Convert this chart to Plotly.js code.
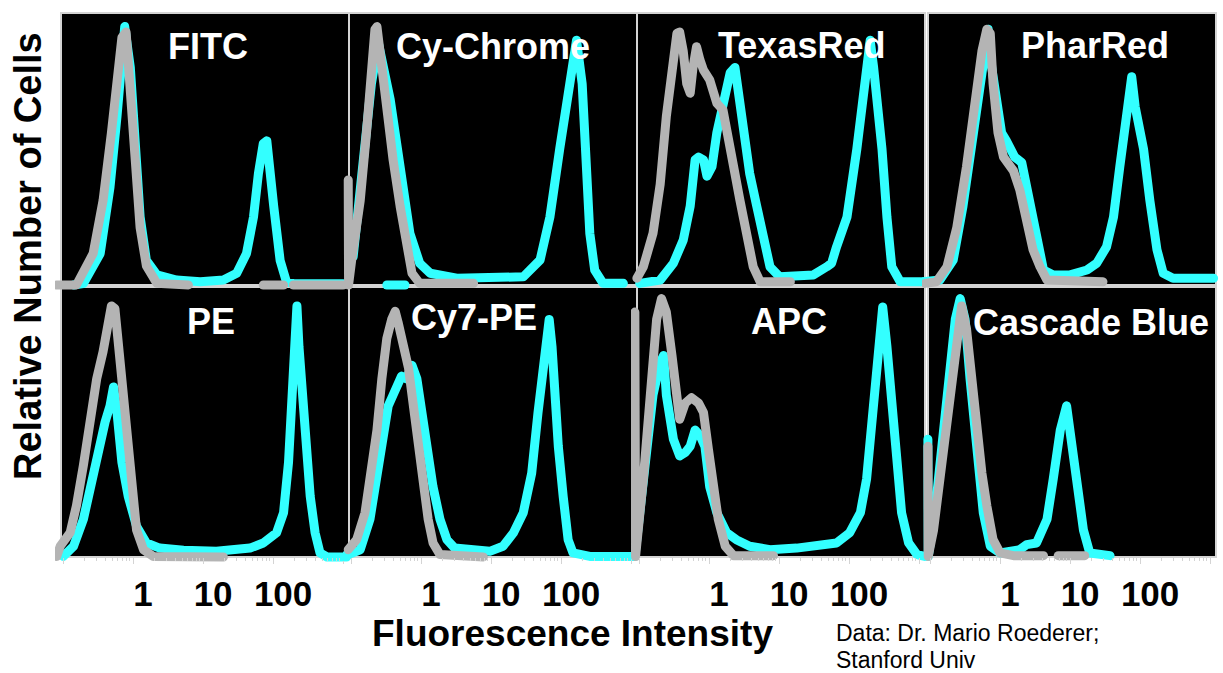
<!DOCTYPE html>
<html>
<head>
<meta charset="utf-8">
<script src="https://cdn.plot.ly/plotly-3.0.1.min.js"></script>
<style>
html,body{margin:0;padding:0;background:#ffffff;}
#chart{width:1223px;height:673px;}
</style>
</head>
<body>
<div id="chart"></div>
<script>
// ---------------- DATA ----------------
const panelNames = ['FITC', 'Cy-Chrome', 'TexasRed', 'PharRed', 'PE', 'Cy7-PE', 'APC', 'Cascade Blue'];
const tickVals = [0.1, 1, 10, 100, 1000];
const tickText = ['', '1', '10', '100', ''];
const minorTickVals = [0.2,0.3,0.4,0.5,0.6,0.7,0.8,0.9, 2,3,4,5,6,7,8,9, 20,30,40,50,60,70,80,90, 200,300,400,500,600,700,800,900];

// FITC
const fitcCyanX = [0.141,0.195,0.339,0.468,0.589,0.692,0.759,0.912,1.07,1.26,1.55,2.19,4.17,9.12,19.5,30.2,41.7,52.5,61.7,72.4,81.3,91.2,102,126,155,195,1000];
const fitcCyanY = [0,0.5,11.6,36,62,86,95,80,50,25,9,3.7,1.8,1.2,1.8,4.3,11.6,25,41,52,53,43.5,29,9,1.2,0.5,0.5];
const fitcGrayX = [0.081,0.155,0.269,0.372,0.49,0.617,0.692,0.794,0.912,1.07,1.26,1.55,2.19,6.17,null,72.4,141,null,195,1000];
const fitcGrayY = [0,0,11.6,31,56,80,91,93,74,43,21,7,0.6,0,null,0,0,null,0,0];

// Cy-Chrome
const cychCyanX = [0.324,0.589,null,0.107,0.148,0.195,0.245,0.363,0.501,0.692,0.955,1.35,3.24,9.55,28.8,50.1,69.2,95.5,120,141,166,200,234,257,302,398,776];
const cychCyanY = [0,0,null,10.4,43.5,74,89,68,43.5,19,8,4.3,2.5,2.5,3,9.2,25,50,68,80,90,74,43.5,19,5.5,0.6,0.6];
const cychGrayX = [0.091,0.092,0.102,0.135,0.166,0.195,0.219,0.234,0.275,0.324,0.398,0.501,0.617,0.741,0.955,5.62];
const cychGrayY = [38.6,0,9.2,31,56,80,94,95,80,62,46,29,13,4.3,0.6,0.6];

// TexasRed
const texCyanX = [0.102,0.2,0.309,0.427,0.537,0.631,0.708,0.832,0.933,1.10,1.29,1.45,1.70,2.0,2.34,2.63,2.75,3.24,3.80,4.79,5.89,7.41,10.2,30.9,47.9,56.2,66.1,93.3,129,158,178,200,224,245,295,347,407,537,1148];
const texCyanY = [0.6,1.8,8,16.5,29,46,47,46,40,43.5,56,63,70.5,78,80,70.5,62,53,41,29,16.5,6.7,3,3.7,6.7,8,14,25,50,68,80,90,80,70.5,50,25,6.7,1.2,1.2];
const texGrayX = [0.093,0.115,0.158,0.2,0.245,0.295,0.347,0.38,0.427,0.479,0.537,0.589,0.661,0.741,0.832,1.02,1.29,1.58,1.78,2.24,2.75,3.47,4.27,5.37,14.5];
const texGrayY = [2.5,6.7,19,37,62,80,92.5,93,86,74,70.5,80,87.6,82.7,79,75.4,66.8,64.3,55.8,43.5,31.3,19,6.7,1.2,1.2];

// PharRed
const pharCyanX = [0.08,0.138,0.214,0.295,0.417,0.513,0.676,0.759,0.891,1.05,1.23,1.62,2.04,2.40,3.16,4.17,5.75,10,17.4,24,33.1,41.7,51.3,64.6,75.9,85.1,112,138,174,214,295,1122];
const pharCyanY = [1.2,1.8,9.2,29,56,74,94,80,68,56,53,47,45,36,19,5.5,3.7,3.7,5.5,8,14,25,43.5,62,76.6,65.5,50,31,13,4.3,2.5,2.5];
const pharGrayX = [0.085,0.123,0.174,0.24,0.331,0.437,0.55,0.646,0.724,0.794,0.933,1.12,1.55,1.91,2.40,2.95,3.72,4.68,29.5];
const pharGrayY = [0.6,1.2,6.7,21,43.5,68,86,94,92.5,74,56,47,42,35,25,13,6.7,1.8,1.2];

// PE
const peCyanX = [0.1,0.141,0.195,0.269,0.339,0.398,0.468,0.525,0.589,0.692,0.851,1.12,1.55,2.40,5.25,15.5,46.8,72.4,112,141,166,186,204,219,234,257,288,339,398,468,589,1122];
const peCyanY = [0.2,4,14,31,44,50,56,63,53.5,35,22.5,11.4,5.2,3.3,2.5,2.1,3.3,5.2,9,16.4,35,60,84.5,93,78,61,41,22.5,9,1.5,0,0];
const peGrayX = [0.081,0.091,0.126,0.155,0.195,0.24,0.302,0.372,0.447,0.49,0.55,0.617,0.692,0.813,0.955,1.12,1.41,1.95,19.5];
const peGrayY = [0.2,4,9,19,34,51,66,76,88,93,92,78,60,41,22.5,10,2.7,0.2,0];

// Cy7-PE
const cy7CyanX = [0.078,0.135,0.186,0.257,0.339,0.398,0.468,0.525,0.617,0.741,0.871,1.02,1.20,1.48,1.86,2.34,3.02,5.62,9.55,14.8,20.9,28.8,38,46.8,56.2,61.7,67.6,74.1,81.3,91.2,107,126,148,257,1072];
const cy7CyanY = [0.2,2.7,14,35,56,60,65,67,66,71,66,53.5,41,26,14,6.4,3.3,2.7,2.1,4,9,16.4,31,53.5,72,84.5,88,78,60,41,22.5,6.4,1.5,0.2,0.2];
const cy7GrayX = [0.091,0.12,0.158,0.195,0.234,0.275,0.324,0.38,0.427,0.468,0.562,0.661,0.776,0.912,1.07,1.26,1.48,1.86,7.76];
const cy7GrayY = [2.7,6.4,16.4,31,47,66,81,88,91,87,78,70,56,41,26,14,5.2,0.9,0];

// APC
const apcCyanX = [0.087,0.102,0.129,0.158,0.2,0.224,0.245,0.309,0.38,0.457,0.537,0.631,0.741,0.871,1.02,1.29,1.78,2.45,3.80,7.41,17.8,34.7,66.1,102,145,178,209,245,302,347,407,479,562,708,933,1202];
const apcCyanY = [0.2,16.4,41,60,72,74.6,60,43.6,37.4,38.7,41,47,45,41,26,16.4,9,6.4,4,2.7,3.3,4,5.2,9,16.4,29,47,72,92.6,78,60,35,16.4,5.2,0.9,0.2];
const apcGrayX = [0.087,0.089,0.115,0.145,0.178,0.209,0.245,0.295,0.347,0.38,0.457,0.562,0.708,0.832,0.977,1.15,1.35,1.70,2.24,8.32];
const apcGrayY = [90.7,0.2,29,60,88,95.7,90.7,74.6,56,51,57,59,57,53.5,40,26,14,4,0.5,0.5];

// Cascade Blue
const cbCyanX = [0.093,0.094,0.117,0.148,0.182,0.229,0.269,0.316,0.372,0.468,0.575,0.724,1.0,1.91,2.40,3.31,4.68,5.75,7.24,8.91,10,11.2,13.2,15.5,19.1,37.2];
const cbCyanY = [43.6,0.2,16.4,41,66,88,95.7,88,66,41,16.4,4,1.5,2.7,4.6,5.2,14,29,47,56,47,35,22.5,10,1.5,0.5];
const cbGrayX = [0.093,0.094,0.112,0.138,0.174,0.214,0.251,0.282,0.331,0.389,0.468,0.55,0.646,0.794,1.0,1.55,4.17,null,6.76,16.2];
const cbGrayY = [41,0.2,10,29,53.5,72,88,93,84.5,66,47,31,19,6.4,1.5,0.5,0.5,null,0.5,0.5];

const cyanSeries = [
  [fitcCyanX, fitcCyanY], [cychCyanX, cychCyanY], [texCyanX, texCyanY], [pharCyanX, pharCyanY],
  [peCyanX, peCyanY], [cy7CyanX, cy7CyanY], [apcCyanX, apcCyanY], [cbCyanX, cbCyanY]
];
const graySeries = [
  [fitcGrayX, fitcGrayY], [cychGrayX, cychGrayY], [texGrayX, texGrayY], [pharGrayX, pharGrayY],
  [peGrayX, peGrayY], [cy7GrayX, cy7GrayY], [apcGrayX, apcGrayY], [cbGrayX, cbGrayY]
];

// ---------------- LAYOUT GEOMETRY ----------------
const W = 1223, H = 673;
const colLeft = [61, 349, 637, 928];
const panelW = 288;
const rowTop = [13, 287];
const rowBottom = [285, 557];
const pxPerDecade = 70;
const logStart = -1.03;
const pad = 6;
const FONT = 'Liberation Sans, Arial, Helvetica, sans-serif';
const CYAN = '#33ffff';
const GRAY = '#b4b4b4';
const BORDER = '#d4d4d4';

const titlePos = [[208, 47], [493, 47], [801, 46], [1095, 46], [211, 321], [474, 317], [789, 321], [1091, 322]];

const traces = [];
const layout = {
  width: W, height: H,
  margin: {l: 0, r: 0, t: 0, b: 0},
  paper_bgcolor: '#ffffff',
  plot_bgcolor: 'rgba(0,0,0,0)',
  showlegend: false,
  font: {family: FONT, color: '#000000'},
  shapes: [],
  annotations: []
};

for (let i = 0; i < 8; i++) {
  const r = Math.floor(i / 4), c = i % 4;
  const L = colLeft[c], T = rowTop[r], B = rowBottom[r], h = B - T;
  const xn = i === 0 ? 'xaxis' : 'xaxis' + (i + 1);
  const yn = i === 0 ? 'yaxis' : 'yaxis' + (i + 1);
  const xr = i === 0 ? 'x' : 'x' + (i + 1);
  const yr = i === 0 ? 'y' : 'y' + (i + 1);
  const bottomRow = r === 1;

  layout[xn] = {
    type: 'log',
    domain: [(L - pad) / W, (L + panelW + pad) / W],
    range: [logStart - pad / pxPerDecade, logStart + (panelW + pad) / pxPerDecade],
    anchor: 'free',
    position: 1 - B / H,
    showgrid: false, zeroline: false, showline: false,
    fixedrange: true,
    tickmode: 'array', tickvals: tickVals, ticktext: tickText,
    ticks: bottomRow ? 'outside' : '',
    ticklen: 6, tickwidth: 1, tickcolor: BORDER,
    showticklabels: bottomRow,
    ticklabelshift: 10,
    ticklabelstandoff: 0,
    tickfont: {family: FONT, size: 35, color: '#000000', weight: 'bold'},
    minor: bottomRow ? {tickmode: 'array', tickvals: minorTickVals, ticks: 'outside', ticklen: 3, tickwidth: 1, tickcolor: BORDER, showgrid: false} : undefined
  };
  layout[yn] = {
    domain: [1 - (B + pad) / H, 1 - (T - pad) / H],
    range: [-pad / h * 100, 100 + pad / h * 100],
    anchor: xr,
    showgrid: false, zeroline: false, showline: false,
    showticklabels: false, ticks: '', fixedrange: true
  };

  layout.shapes.push({
    type: 'rect', xref: 'paper', yref: 'paper', layer: 'below',
    x0: L / W, x1: (L + panelW) / W, y0: 1 - B / H, y1: 1 - T / H,
    fillcolor: '#000000', line: {color: BORDER, width: 2}
  });

  traces.push({
    type: 'scatter', mode: 'lines', x: cyanSeries[i][0], y: cyanSeries[i][1],
    xaxis: xr, yaxis: yr, line: {color: CYAN, width: 9}, hoverinfo: 'skip'
  });
  traces.push({
    type: 'scatter', mode: 'lines', x: graySeries[i][0], y: graySeries[i][1],
    xaxis: xr, yaxis: yr, line: {color: GRAY, width: 9}, hoverinfo: 'skip'
  });

  layout.annotations.push({
    text: panelNames[i], xref: 'paper', yref: 'paper',
    x: titlePos[i][0] / W, y: 1 - titlePos[i][1] / H,
    xanchor: 'center', yanchor: 'middle', showarrow: false,
    font: {family: FONT, size: 36, color: '#ffffff', weight: 'bold'}
  });
}

layout.annotations.push({
  text: 'Fluorescence Intensity', xref: 'paper', yref: 'paper',
  x: 572 / W, y: 1 - 633 / H, xanchor: 'center', yanchor: 'middle', showarrow: false,
  font: {family: FONT, size: 37, color: '#000000', weight: 'bold'}
});
layout.annotations.push({
  text: 'Relative Number of Cells', xref: 'paper', yref: 'paper',
  x: 28 / W, y: 1 - 256 / H, xanchor: 'center', yanchor: 'middle', showarrow: false,
  textangle: -90,
  font: {family: FONT, size: 38, color: '#000000', weight: 'bold'}
});
layout.annotations.push({
  text: 'Data: Dr. Mario Roederer;', xref: 'paper', yref: 'paper',
  x: 834 / W, y: 1 - 633 / H, xanchor: 'left', yanchor: 'middle', showarrow: false,
  font: {family: FONT, size: 23, color: '#000000'}
});
layout.annotations.push({
  text: 'Stanford Univ', xref: 'paper', yref: 'paper',
  x: 834 / W, y: 1 - 660 / H, xanchor: 'left', yanchor: 'middle', showarrow: false,
  font: {family: FONT, size: 23, color: '#000000'}
});

Plotly.newPlot('chart', traces, layout, {staticPlot: true, displayModeBar: false}).then(function (gd) {
  gd.querySelectorAll('.scatterlayer path.js-line').forEach(function (p) {
    p.style.strokeLinejoin = 'round';
    p.style.strokeLinecap = 'round';
  });
});
</script>
</body>
</html>
